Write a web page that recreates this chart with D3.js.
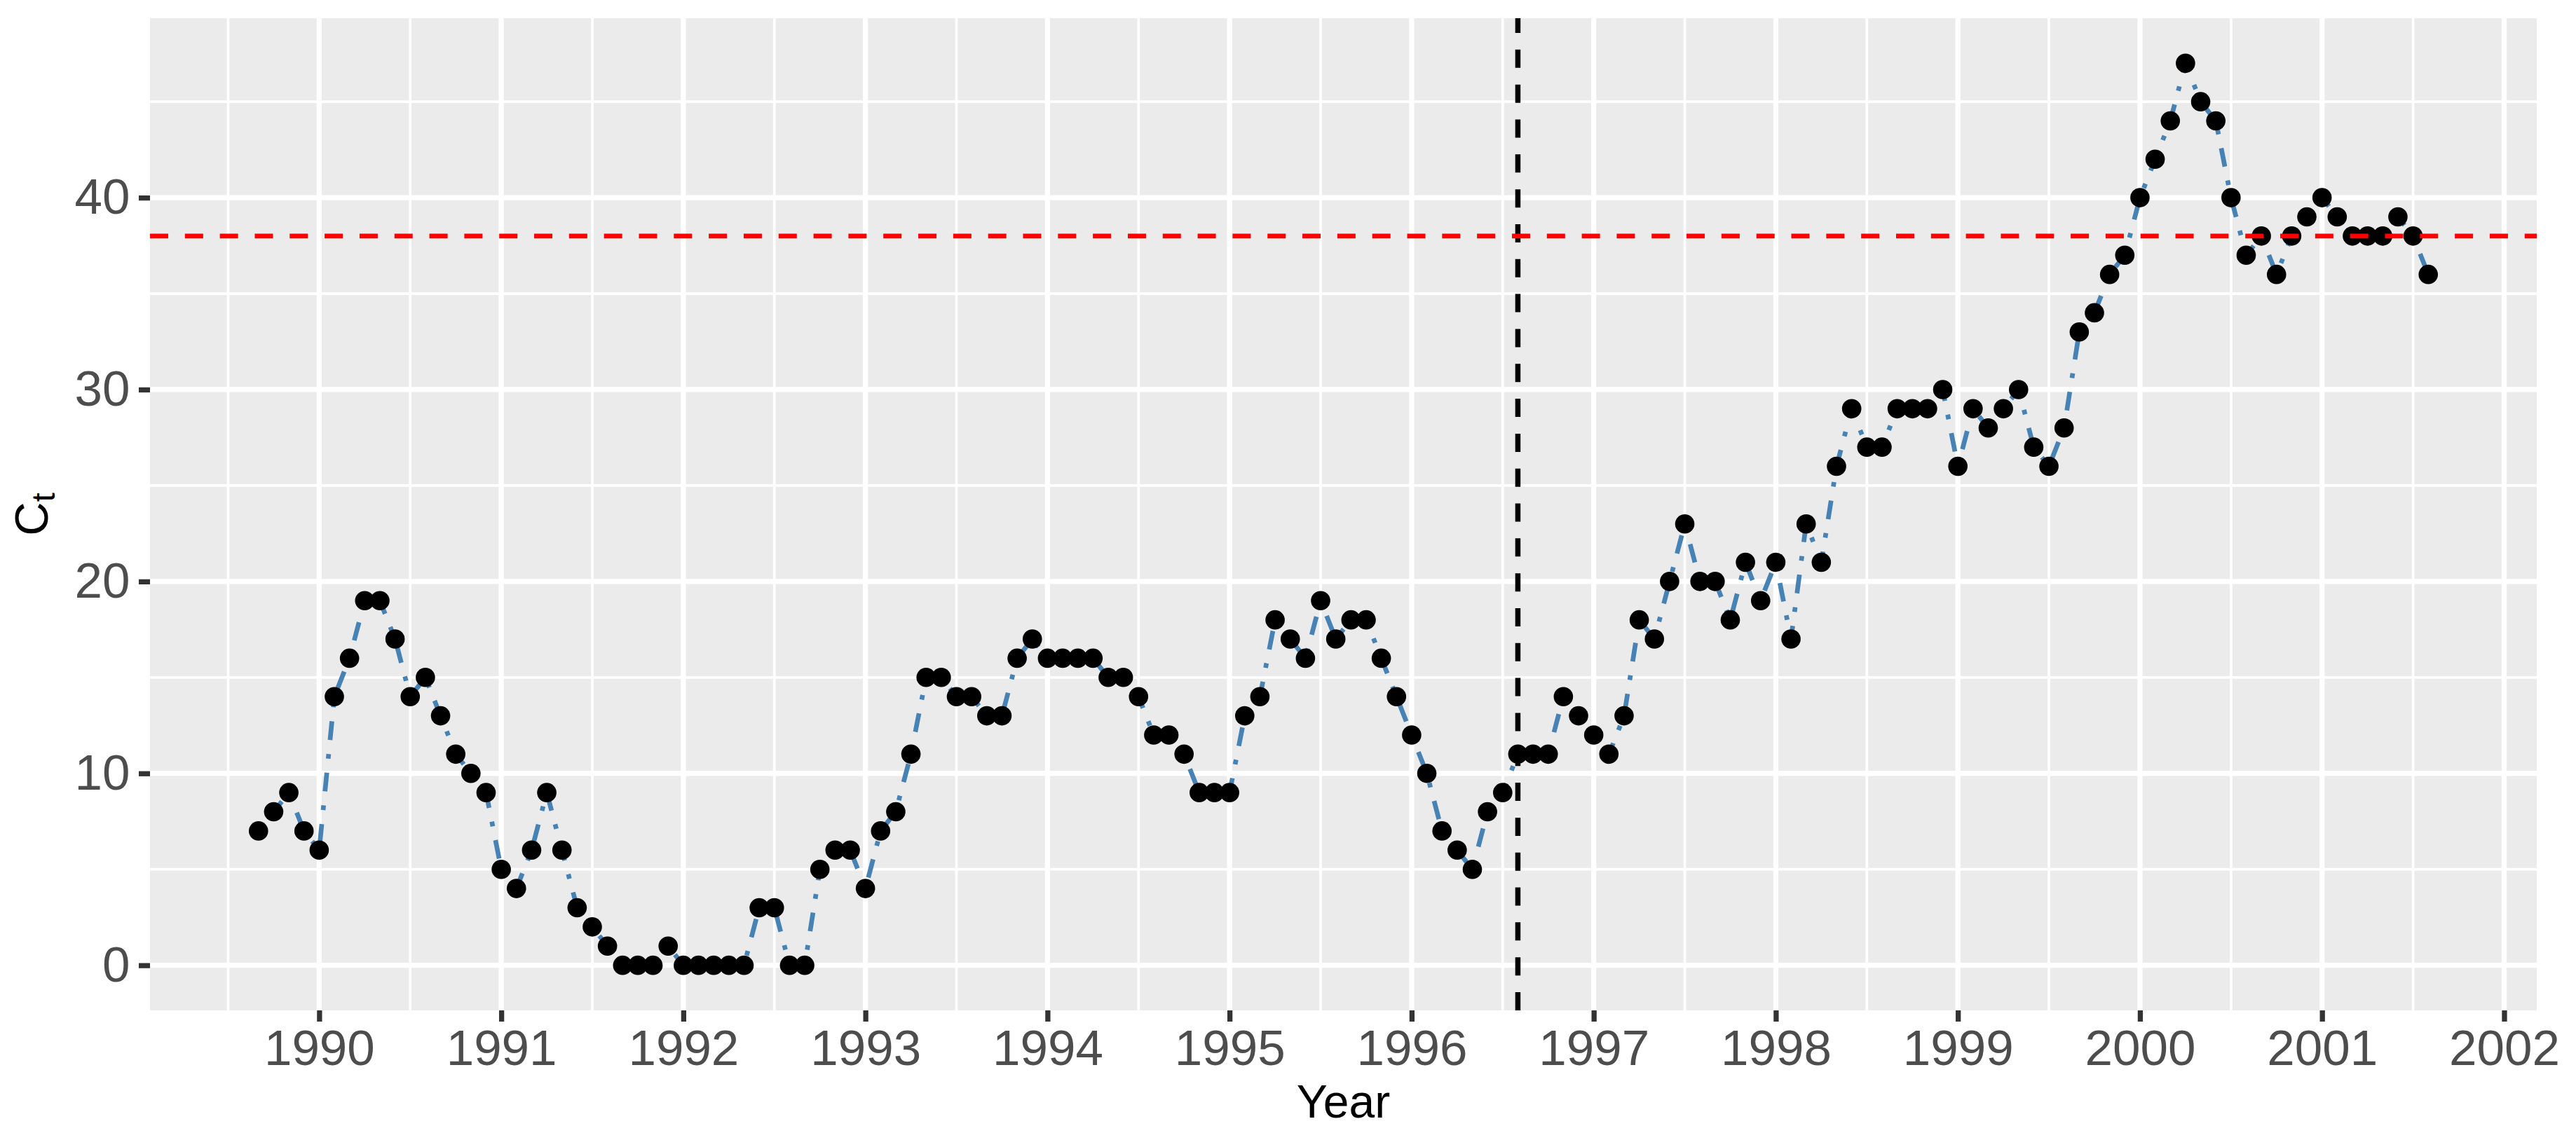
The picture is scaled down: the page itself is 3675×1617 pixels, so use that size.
<!DOCTYPE html>
<html><head><meta charset="utf-8">
<script src="https://cdn.jsdelivr.net/npm/d3@7"></script>
<style>body{margin:0;background:#fff}</style>
</head><body>
<svg id="chart" width="3675" height="1617" xmlns="http://www.w3.org/2000/svg"></svg>
<script>
// ---- data (monthly counts, Sept 1989 - Aug 2001) ----
const startYear = 1989;
const startMonth = 9;
const counts = [
  7,8,9,7,6,14,16,19,19,17,14,15,
  13,11,10,9,5,4,6,9,6,3,2,1,
  0,0,0,1,0,0,0,0,0,3,3,0,
  0,5,6,6,4,7,8,11,15,15,14,14,
  13,13,16,17,16,16,16,16,15,15,14,12,
  12,11,9,9,9,13,14,18,17,16,19,17,
  18,18,16,14,12,10,7,6,5,8,9,11,
  11,11,14,13,12,11,13,18,17,20,23,20,
  20,18,21,19,21,17,23,21,26,29,27,27,
  29,29,29,30,26,29,28,29,30,27,26,28,
  33,34,36,37,40,42,44,47,45,44,40,37,
  38,36,38,39,40,39,38,38,38,39,38,36
];
const xMajorTicks = [1990,1991,1992,1993,1994,1995,1996,1997,1998,1999,2000,2001,2002];
const xMinorTicks = [1989.5,1990.5,1991.5,1992.5,1993.5,1994.5,1995.5,1996.5,1997.5,1998.5,1999.5,2000.5,2001.5];
const yMajorTicks = [0,10,20,30,40];
const yMinorTicks = [5,15,25,35,45];
const thresholdValue = 38;
const changeYear = 1996, changeMonth = 8;
const xTitle = "Year";
const yTitleMain = "C", yTitleSub = "t";

// ---- layout ----
const panel = {left: 214, right: 3619, top: 26, bottom: 1442};
const FONT = "'Liberation Sans', Arial, Helvetica, sans-serif";

const times = counts.map((_, i) => startYear + (startMonth - 1) / 12 + i / 12);
const changeTime = changeYear + (changeMonth - 1) / 12;

const xe = d3.extent(times), xp = (xe[1] - xe[0]) * 0.05;
const x = d3.scaleLinear().domain([xe[0] - xp, xe[1] + xp]).range([panel.left, panel.right]);
const ye = d3.extent(counts), yp = (ye[1] - ye[0]) * 0.05;
const y = d3.scaleLinear().domain([ye[0] - yp, ye[1] + yp]).range([panel.bottom, panel.top]);

const svg = d3.select("#chart");
svg.append("rect").attr("width", 3675).attr("height", 1617).attr("fill", "#fff");

svg.append("defs").append("clipPath").attr("id", "clip")
  .append("rect").attr("x", panel.left).attr("y", panel.top)
  .attr("width", panel.right - panel.left).attr("height", panel.bottom - panel.top);

svg.append("rect").attr("x", panel.left).attr("y", panel.top)
  .attr("width", panel.right - panel.left).attr("height", panel.bottom - panel.top)
  .attr("fill", "#EBEBEB");

const g = svg.append("g").attr("clip-path", "url(#clip)");

// grid
g.selectAll("line.ymin").data(yMinorTicks).join("line")
  .attr("x1", panel.left).attr("x2", panel.right).attr("y1", d => y(d)).attr("y2", d => y(d))
  .attr("stroke", "#fff").attr("stroke-width", 3.7);
g.selectAll("line.xmin").data(xMinorTicks).join("line")
  .attr("y1", panel.top).attr("y2", panel.bottom).attr("x1", d => x(d)).attr("x2", d => x(d))
  .attr("stroke", "#fff").attr("stroke-width", 3.7);
g.selectAll("line.ymaj").data(yMajorTicks).join("line")
  .attr("x1", panel.left).attr("x2", panel.right).attr("y1", d => y(d)).attr("y2", d => y(d))
  .attr("stroke", "#fff").attr("stroke-width", 7.3);
g.selectAll("line.xmaj").data(xMajorTicks).join("line")
  .attr("y1", panel.top).attr("y2", panel.bottom).attr("x1", d => x(d)).attr("x2", d => x(d))
  .attr("stroke", "#fff").attr("stroke-width", 7.3);

// series line (dotdash)
const lw = 6.7;
const line = d3.line().x((d, i) => x(times[i])).y(d => y(d));
g.append("path").datum(counts).attr("d", line)
  .attr("fill", "none").attr("stroke", "steelblue").attr("stroke-width", lw)
  .attr("stroke-linecap", "butt").attr("stroke-linejoin", "round")
  .attr("stroke-dasharray", [lw, 3 * lw, 4 * lw, 3 * lw].join(" "));

// points
g.selectAll("circle").data(counts).join("circle")
  .attr("cx", (d, i) => x(times[i])).attr("cy", d => y(d)).attr("r", 13.8).attr("fill", "#000");

// vertical change line (drawn bottom to top)
g.append("line").attr("x1", x(changeTime)).attr("x2", x(changeTime))
  .attr("y1", panel.bottom).attr("y2", panel.top)
  .attr("stroke", "#000").attr("stroke-width", 7.5).attr("stroke-dasharray", "26 23.82");

// threshold line
g.append("line").attr("x1", panel.left).attr("x2", panel.right)
  .attr("y1", y(thresholdValue)).attr("y2", y(thresholdValue))
  .attr("stroke", "#FF0000").attr("stroke-width", 6.7).attr("stroke-dasharray", "26 23.82");

// axes
const xAxis = d3.axisBottom(x).tickValues(xMajorTicks).tickFormat(d3.format("d")).tickSize(16).tickPadding(12);
const gx = svg.append("g").attr("transform", `translate(0,${panel.bottom})`).call(xAxis);
const yAxis = d3.axisLeft(y).tickValues(yMajorTicks).tickFormat(d3.format("d")).tickSize(16).tickPadding(12.5);
const gy = svg.append("g").attr("transform", `translate(${panel.left},0)`).call(yAxis);
[gx, gy].forEach(a => {
  a.select(".domain").remove();
  a.selectAll(".tick line").attr("stroke", "#333333").attr("stroke-width", 7.3);
  a.selectAll(".tick text").attr("fill", "#4D4D4D").attr("font-size", 71).attr("font-family", FONT);
});

// titles
svg.append("text").attr("x", (panel.left + panel.right) / 2).attr("y", 1595)
  .attr("text-anchor", "middle").attr("font-family", FONT).attr("font-size", 66)
  .attr("fill", "#000").text(xTitle);

const yt = svg.append("text").attr("transform", `translate(68,${(panel.top + panel.bottom) / 2}) rotate(-90)`)
  .attr("text-anchor", "middle").attr("font-family", FONT).attr("fill", "#000");
yt.append("tspan").attr("font-size", 67).text(yTitleMain);
yt.append("tspan").attr("font-size", 47).attr("dy", 10).text(yTitleSub);
</script>
</body></html>
